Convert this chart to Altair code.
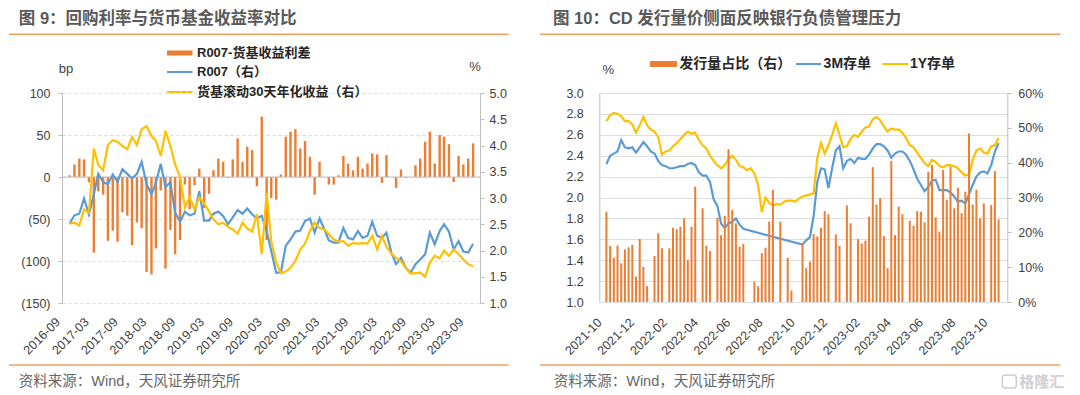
import altair as alt
import pandas as pd

FONT = "Liberation Sans, Noto Sans CJK SC, sans-serif"
ORANGE = "#ED7D31"
BLUE = "#5B9BD5"
YELLOW = "#FFC000"
RULE_ORANGE = "#F0A05A"
TITLE_GRAY = "#595959"
LABEL = "#404040"
AXIS_GRAY = "#BFBFBF"
GRID = "#D9D9D9"

# ---------------- Figure 9 (monthly) ----------------
fig9_first_month = "2016-09-01"
spread_bp = [2, 15, 22, 21, -6, -90, -17, -21, -76, -64,
             -77, -42, -46, -81, -54, -61, -113, -116, -85, -16,
             -109, -63, -92, -75, -9, -38, -10, 10, -37, -20,
             8, 22, 18, -1, 21, 46, 18, 36, 32, -11,
             72, -75, -25, -27, 3, 48, 54, 57, 34, 43,
             24, -21, 18, 0, -9, -9, 2, 25, 16, 8,
             24, 10, 16, 28, 27, -7, 26, 0, -13, 9,
             -1, 0, 14, 22, 42, 54, 16, 50, 48, 39,
             -6, 25, 15, 22, 40]
r007 = [2.51, 2.67, 2.70, 2.99, 2.69, 3.07, 3.46, 3.30, 3.26, 3.45,
        3.31, 3.55, 3.46, 3.37, 3.46, 3.69, 3.26, 3.07, 3.29, 3.65,
        3.21, 3.30, 2.72, 2.55, 2.74, 2.67, 2.70, 3.13, 2.57, 2.57,
        2.70, 2.74, 2.66, 2.50, 2.63, 2.77, 2.70, 2.80, 2.69, 2.61,
        2.66, 2.37, 1.99, 1.58, 1.58, 2.09, 2.21, 2.36, 2.38, 2.56,
        2.61, 2.34, 2.61, 2.40, 2.19, 2.15, 2.15, 2.43, 2.24, 2.21,
        2.37, 2.24, 2.28, 2.55, 2.28, 2.24, 2.34, 1.96, 1.74, 1.86,
        1.67, 1.58, 1.74, 1.83, 1.93, 2.34, 2.12, 2.37, 2.50, 2.36,
        2.02, 2.18, 1.98, 1.96, 2.13]
mmf30 = [2.51, 2.53, 2.48, 2.78, 2.72, 3.94, 3.63, 3.53, 4.01, 4.10,
         4.07, 3.99, 3.93, 4.16, 4.01, 4.31, 4.37, 4.18, 4.09, 3.80,
         4.28, 3.99, 3.64, 3.40, 2.82, 3.02, 2.78, 3.01, 2.90, 2.74,
         2.59, 2.50, 2.53, 2.45, 2.40, 2.32, 2.53, 2.42, 2.36, 2.69,
         1.93, 3.10, 2.18, 1.77, 1.57, 1.60, 1.67, 1.80, 2.02, 2.13,
         2.37, 2.53, 2.43, 2.40, 2.31, 2.21, 2.17, 2.18, 2.09, 2.14,
         2.13, 2.14, 2.13, 2.28, 2.02, 2.28, 2.07, 1.94, 1.86, 1.80,
         1.67, 1.56, 1.57, 1.58, 1.50, 1.77, 1.90, 1.85, 2.00, 1.90,
         2.02, 1.93, 1.83, 1.74, 1.70]
fig9_ticks = ["2016-09", "2017-03", "2017-09", "2018-03", "2018-09", "2019-03",
              "2019-09", "2020-03", "2020-09", "2021-03", "2021-09", "2022-03",
              "2022-09", "2023-03", "2023-09"]

# ---------------- Figure 10 (weekly) ----------------
fig10_first_week = "2021-10-05"
cd_share_pct = [25.9, 16.1, 12.7, 16.2, 11.1, 15.1, 15.7, 16.4, 7.3, 18.1,
                10.1, 4.6, None, 13.2, 19.7, 15.4, None, 15.4, 21.3, 20.9,
                21.6, 24.0, 12.1, 21.6, 33.1, None, 26.9, 16.2, 14.6, None,
                24.2, 19.2, 24.7, 43.9, 26.4, 22.6, 15.9, 16.7, None, None,
                5.8, 4.5, 14.0, 15.6, 23.1, 32.2, None, 23.1, None, 12.7,
                3.3, None, None, 16.8, 9.7, 11.6, 19.5, 18.8, 21.3, 26.1,
                25.2, None, 19.4, 16.1, None, 27.7, 22.6, None, 18.1, 16.8,
                17.6, 24.5, 38.7, 28.0, 29.8, 18.9, 9.7, 40.5, 19.2, 27.4,
                25.2, None, 23.3, 21.9, 26.1, 25.9, 22.9, 37.4, 39.3, 24.3,
                20.2, 37.9, 29.3, 38.9, 26.9, 32.8, 25.5, 31.7, 48.4, 28.0,
                32.2, 24.0, 28.3, None, 27.8, 37.6, 23.7]
cd_3m = [2.32, 2.40, 2.42, 2.44, 2.55, 2.48, 2.47, 2.48, 2.43, 2.48,
         2.53, 2.49, 2.44, 2.42, 2.35, 2.31, 2.30, 2.28, 2.28, 2.29,
         2.30, 2.30, 2.32, 2.33, 2.31, 2.24, 2.21, 2.21, 2.15, 1.98,
         1.92, 1.75, 1.71, 1.75, 1.77, 1.80, 1.74, 1.70, None, None,
         None, None, None, None, None, None, None, None, None, None,
         None, None, None, 1.55, 1.59, 1.62, 1.82, 2.15, 2.28, 2.27,
         2.09, 2.28, 2.45, 2.49, 2.28, 2.35, 2.37, 2.33, 2.38, 2.37,
         2.37, 2.41, 2.47, 2.51, 2.51, 2.49, 2.45, 2.38, 2.42, 2.44,
         2.44, 2.41, 2.35, 2.27, 2.18, 2.12, 2.06, 2.10, 2.16, 2.17,
         2.07, 2.07, 2.07, 2.05, 2.01, 1.96, 1.97, 1.94, 2.03, 2.12,
         2.20, 2.24, 2.25, 2.23, 2.31, 2.44, 2.52]
cd_1y = [2.73, 2.79, 2.81, 2.80, 2.78, 2.73, 2.73, 2.70, 2.62, 2.69,
         2.77, 2.69, 2.65, 2.63, 2.58, 2.41, 2.44, 2.45, 2.49, 2.52,
         2.56, 2.60, 2.63, 2.61, 2.62, 2.55, 2.50, 2.47, 2.40, 2.35,
         2.31, 2.28, 2.31, 2.37, 2.40, 2.36, 2.30, 2.29, 2.26, 2.28,
         2.23, 2.12, 1.86, 2.00, 1.95, 1.92, 1.94, 1.93, 1.96, 1.97,
         1.97, 1.96, 1.99, 2.01, 2.02, 2.03, 2.04, 2.38, 2.52, 2.42,
         2.50, 2.60, 2.71, 2.60, 2.48, 2.49, 2.56, 2.60, 2.58, 2.63,
         2.67, 2.68, 2.75, 2.77, 2.74, 2.68, 2.63, 2.66, 2.65, 2.65,
         2.62, 2.57, 2.50, 2.48, 2.43, 2.38, 2.33, 2.30, 2.36, 2.34,
         2.30, 2.29, 2.31, 2.31, 2.30, 2.28, 2.24, 2.21, 2.22, 2.36,
         2.45, 2.47, 2.43, 2.42, 2.49, 2.50, 2.57]
fig10_ticks = ["2021-10", "2021-12", "2022-02", "2022-04", "2022-06", "2022-08",
               "2022-10", "2022-12", "2023-02", "2023-04", "2023-06", "2023-08",
               "2023-10"]

months = pd.date_range(fig9_first_month, periods=len(spread_bp), freq="MS")
weeks = pd.date_range(fig10_first_week, periods=len(cd_share_pct), freq="7D")

dfA = pd.DataFrame({"month": months, "spread": spread_bp, "r007": r007, "mmf": mmf30})
dfB = pd.DataFrame({"week": weeks, "share": cd_share_pct, "m3": cd_3m, "y1": cd_1y})
dfB_bars = dfB.dropna(subset=["share"])
dfB_3m = dfB.dropna(subset=["m3"])
one = pd.DataFrame({"k": [0]})


def dt(s, day=1):
    return alt.DateTime(year=int(s[:4]), month=int(s[5:7]), date=day)


def txt(s, x, y, size=13, weight="normal", color=LABEL, align="left"):
    return alt.Chart(one).mark_text(text=s, font=FONT, fontSize=size, fontWeight=weight,
                                    color=color, align=align, baseline="middle").encode(
        x=alt.value(x), y=alt.value(y))


def hrule(x1, x2, y, color, w=1.5):
    return alt.Chart(one).mark_rule(color=color, strokeWidth=w).encode(
        x=alt.value(x1), x2=alt.value(x2), y=alt.value(y))


def box(x1, x2, y1, y2, color):
    return alt.Chart(one).mark_rect(color=color).encode(
        x=alt.value(x1), x2=alt.value(x2), y=alt.value(y1), y2=alt.value(y2))


# ---------------- Panel A ----------------
WA, HA = 418, 210
xA = alt.X("month:T", title=None,
           scale=alt.Scale(domain=[dt("2016-08", 15), dt("2023-09", 13)]),
           axis=alt.Axis(values=[dt(s) for s in fig9_ticks], format="%Y-%m", labelAngle=-45,
                         labelAlign="right", labelBaseline="middle", labelOffset=-12,
                         labelPadding=16.6, ticks=False, tickSize=0, domain=False, grid=False,
                         labelFontSize=12.5, labelColor=LABEL, labelFont=FONT,
                         labelOverlap=False, labelFlush=False))

left_axis_A = alt.Axis(orient="left", values=[-150, -100, -50, 0, 50, 100],
                       labelExpr="datum.value < 0 ? '(' + (-datum.value) + ')' : datum.value + '\u00a0'",
                       title=None, grid=True, gridDash=[3, 3], gridColor=GRID,
                       domainColor=AXIS_GRAY, tickColor=AXIS_GRAY, tickSize=4, labelPadding=8,
                       labelFontSize=12.5, labelColor=LABEL, labelFont=FONT)
right_axis_A = alt.Axis(orient="right", values=[1.0, 1.5, 2.0, 2.5, 3.0, 3.5, 4.0, 4.5, 5.0],
                        format=".1f", title=None, grid=False, domainColor=AXIS_GRAY,
                        tickColor=AXIS_GRAY, tickSize=4, labelPadding=5,
                        labelFontSize=12.5, labelColor=LABEL, labelFont=FONT)
scale_bp = alt.Scale(domain=[-150, 100], nice=False, zero=False)
scale_pctA = alt.Scale(domain=[1.0, 5.0], nice=False, zero=False)

barsA = alt.Chart(dfA).mark_bar(color=ORANGE, size=2.4).encode(
    x=xA, y=alt.Y("spread:Q", scale=scale_bp, axis=left_axis_A))
zeroA = alt.Chart(one).mark_rule(color=AXIS_GRAY, strokeWidth=1).encode(
    y=alt.Y("k:Q", scale=scale_bp, axis=left_axis_A))
lineA1 = alt.Chart(dfA).mark_line(color=BLUE, strokeWidth=2.2).encode(
    x=xA, y=alt.Y("r007:Q", scale=scale_pctA, axis=right_axis_A))
lineA2 = alt.Chart(dfA).mark_line(color=YELLOW, strokeWidth=2.2).encode(
    x=xA, y=alt.Y("mmf:Q", scale=scale_pctA, axis=right_axis_A))

decorA = [
    box(-54, -53, -85, -84, "#FFFFFF"),
    txt("图 9：回购利率与货币基金收益率对比", -43.2, -74.2, size=16.5, weight="bold", color=TITLE_GRAY),
    hrule(-53, 446.6, -58.8, RULE_ORANGE),
    hrule(-53, 446.6, 272, RULE_ORANGE),
    txt("资料来源：Wind，天风证券研究所", -43.2, 289, size=14.5, color="#666666"),
    box(105, 130.5, -42.5, -37.5, ORANGE),
    txt("R007-货基收益利差", 135, -40, size=13, weight="bold", color="#262626"),
    hrule(105, 130.5, -21, BLUE, 2),
    txt("R007（右）", 135, -21, size=13, weight="bold", color="#262626"),
    hrule(105, 130.5, -1, YELLOW, 2),
    txt("货基滚动30天年化收益（右）", 135, -1, size=13, weight="bold", color="#262626"),
    txt("bp", 4, -24.5, size=13, align="center"),
    txt("%", 413, -26, size=13, align="center"),
]

panelA = alt.layer(
    alt.layer(barsA, zeroA),
    alt.layer(lineA1, lineA2),
    *decorA,
).resolve_scale(y="independent").properties(width=WA, height=HA)

# ---------------- Panel B ----------------
WB, HB = 408, 209
xB = alt.X("week:T", title=None,
           scale=alt.Scale(domain=[dt("2021-10", 1), dt("2023-10", 24)]),
           axis=alt.Axis(values=[dt(s) for s in fig10_ticks], format="%Y-%m", labelAngle=-45,
                         labelAlign="right", labelBaseline="middle", labelOffset=-5,
                         labelPadding=18, ticks=False, tickSize=0, domain=False, grid=False,
                         labelFontSize=12.5, labelColor=LABEL, labelFont=FONT,
                         labelOverlap=False, labelFlush=False))
left_axis_B = alt.Axis(orient="left", values=[1.0, 1.2, 1.4, 1.6, 1.8, 2.0, 2.2, 2.4, 2.6, 2.8, 3.0],
                       format=".1f", title=None, grid=True, gridColor="#DEDEDE",
                       domainColor=AXIS_GRAY, ticks=False, tickSize=0, labelPadding=16,
                       labelFontSize=12.5, labelColor=LABEL, labelFont=FONT)
right_axis_B = alt.Axis(orient="right", values=[0, 10, 20, 30, 40, 50, 60],
                        labelExpr="datum.value + '%'", title=None, grid=False,
                        domainColor=AXIS_GRAY, tickColor=AXIS_GRAY, tickSize=4, labelPadding=6.5,
                        labelFontSize=12.5, labelColor=LABEL, labelFont=FONT)
scale_B_left = alt.Scale(domain=[1.0, 3.0], nice=False, zero=False)
scale_B_right = alt.Scale(domain=[0, 60], nice=False)

lineB1 = alt.Chart(dfB_3m).mark_line(color=BLUE, strokeWidth=2.2).encode(
    x=xB, y=alt.Y("m3:Q", scale=scale_B_left, axis=left_axis_B))
lineB2 = alt.Chart(dfB).mark_line(color=YELLOW, strokeWidth=2.2).encode(
    x=xB, y=alt.Y("y1:Q", scale=scale_B_left, axis=left_axis_B))
barsB = alt.Chart(dfB_bars).mark_bar(color=ORANGE, size=2.0).encode(
    x=xB, y=alt.Y("share:Q", scale=scale_B_right, axis=right_axis_B))

decorB = [
    txt("图 10：CD 发行量价侧面反映银行负债管理压力", -46.3, -74.2, size=16.5, weight="bold", color=TITLE_GRAY),
    hrule(-59.3, 461.2, -58.8, RULE_ORANGE),
    hrule(-59.3, 461.2, 272, RULE_ORANGE),
    txt("资料来源：Wind，天风证券研究所", -45.6, 289, size=14.5, color="#666666"),
    box(50.7, 77.7, -32, -26, ORANGE),
    txt("发行量占比（右）", 80, -29, size=14, weight="bold", color="#262626"),
    hrule(196.7, 221.7, -29, BLUE, 2),
    txt("3M存单", 224.3, -29, size=14, weight="bold", color="#262626"),
    hrule(283, 309, -29, YELLOW, 2),
    txt("1Y存单", 310.7, -29, size=14, weight="bold", color="#262626"),
    txt("%", 9, -23, size=13, align="center"),
    alt.Chart(one).mark_rect(fill="#FFFFFF", stroke="#CCCCCC", strokeWidth=1.5, cornerRadius=3).encode(
        x=alt.value(403), x2=alt.value(417), y=alt.value(282), y2=alt.value(295)),
    txt("格隆汇", 420, 288.5, size=15, weight="bold", color="#D0D0D0"),
]

panelB = alt.layer(
    alt.layer(lineB1, lineB2),
    barsB,
    *decorB,
).resolve_scale(y="independent").properties(width=WB, height=HB)

chart = alt.hconcat(panelA, panelB, spacing=119.3, bounds="flush", padding=0).configure_view(
    stroke=None
).configure_axis(labelFont=FONT, titleFont=FONT)

chart.save("out.html", embed_options={"renderer": "svg", "actions": False})
